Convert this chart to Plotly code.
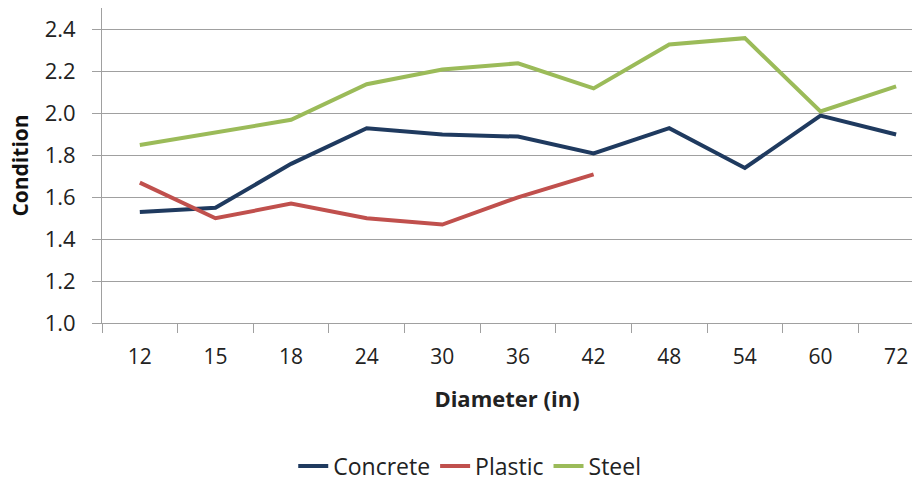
import plotly.graph_objects as go

diameters = ["12", "15", "18", "24", "30", "36", "42", "48", "54", "60", "72"]
concrete = [1.53, 1.55, 1.76, 1.93, 1.90, 1.89, 1.81, 1.93, 1.74, 1.99, 1.90]
plastic = [1.67, 1.50, 1.57, 1.50, 1.47, 1.60, 1.71, None, None, None, None]
steel = [1.85, 1.91, 1.97, 2.14, 2.21, 2.24, 2.12, 2.33, 2.36, 2.01, 2.13]

series = [("Concrete", concrete, "#1F3A5F"),
          ("Plastic", plastic, "#C0504D"),
          ("Steel", steel, "#9BBB59")]

FONT = "Open Sans"
TXT = "#222222"
fig = go.Figure()
for name, vals, col in series:
    fig.add_trace(go.Scatter(x=diameters, y=vals, name=name, mode="lines",
                             line=dict(color=col, width=4), connectgaps=False))

grid = "#A0A0A0"
fig.update_layout(
    width=912, height=481,
    margin=dict(l=102, r=0, t=8, b=158, autoexpand=False),
    paper_bgcolor="white", plot_bgcolor="white",
    font=dict(family=FONT, color=TXT),
    showlegend=True,
    legend=dict(orientation="h", x=0.454, xanchor="center",
                yref="container", y=(481 - 466) / 481, yanchor="middle",
                font=dict(family=FONT, size=23, color=TXT), itemwidth=30),
    xaxis=dict(type="category", range=[-0.5, 10.21], showgrid=False, automargin=False,
               showline=True, linecolor=grid, linewidth=1,
               ticks="outside", tickson="boundaries", ticklen=9, tickcolor=grid,
               ticklabelstandoff=15,
               tickfont=dict(family=FONT, size=21, color=TXT),
               title=dict(text="<b>Diameter (in)</b>", standoff=22,
                          font=dict(family=FONT, size=22, color=TXT))),
    yaxis=dict(range=[1.0, 2.504], tickvals=[1.0, 1.2, 1.4, 1.6, 1.8, 2.0, 2.2, 2.4],
               tickformat=".1f", showgrid=True, gridcolor=grid, gridwidth=1, automargin=False,
               showline=True, linecolor=grid, linewidth=1, zeroline=False,
               ticks="outside", ticklen=9, tickcolor=grid, ticklabelstandoff=12,
               tickfont=dict(family=FONT, size=22, color=TXT),
               title=dict(text="<b>Condition</b>", standoff=10,
                          font=dict(family=FONT, size=21, color="#111111"))),
)
fig.write_html("out.html", config={"displayModeBar": False},
               post_script="document.body.style.margin='0';")
